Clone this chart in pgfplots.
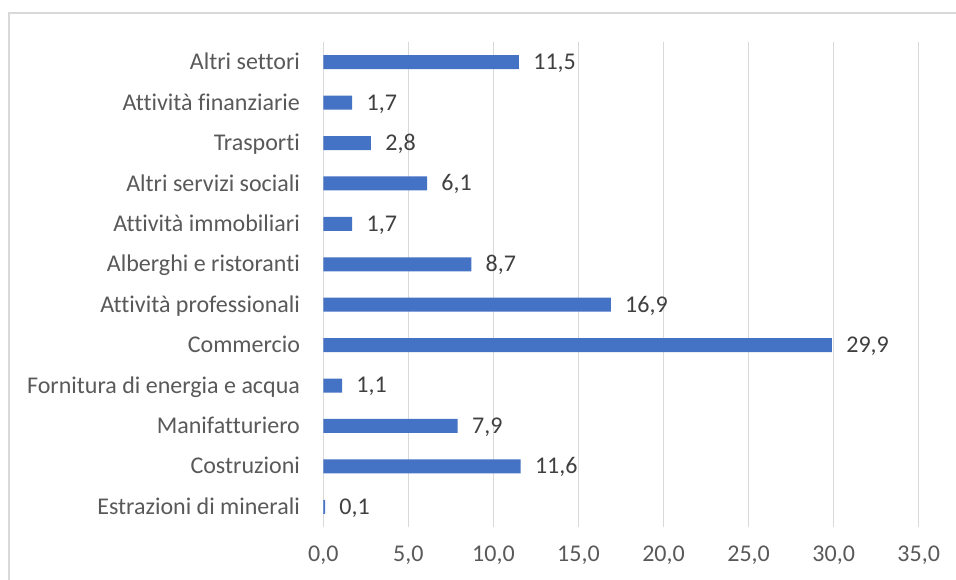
\documentclass[border=0pt]{standalone}
\usepackage{fontspec}
\setmainfont{Carlito}[Ligatures=NoCommon]
\usepackage{pgfplots}
\pgfplotsset{compat=1.18}
\definecolor{barblue}{HTML}{4472C4}
\definecolor{gridgray}{HTML}{D9D9D9}
\definecolor{ticktext}{HTML}{595959}
\definecolor{labeltext}{HTML}{404040}
\begin{document}
\fontsize{12}{14}\selectfont
\begin{tikzpicture}
\useasboundingbox (0,0) rectangle (478pt,289.5pt);
\draw[gridgray, line width=0.7pt] (4.5pt,-20pt) -- (4.5pt,283pt) -- (500pt,283pt);
\begin{axis}[
  at={(161.65pt,26pt)}, anchor=south west,
  scale only axis, width=297.7pt, height=242.5pt,
  xbar, bar width=7pt,
  xmin=0, xmax=35, ymin=-0.5, ymax=11.5,
  xtick={0,5,...,35},
  ytick={0,...,11},
  yticklabels={Estrazioni di minerali, Costruzioni, Manifatturiero, Fornitura di energia e acqua, Commercio, Attività professionali, Alberghi e ristoranti, Attività immobiliari, Altri servizi sociali, Trasporti, Attività finanziarie, Altri settori},
  axis line style={draw=none},
  major tick length=0pt,
  xmajorgrids, major grid style={gridgray, line width=0.75pt},
  /pgf/number format/.cd, use comma, fixed, fixed zerofill, precision=1, assume math mode=true,
  /pgfplots/.cd,
  xticklabel style={anchor=north, inner sep=0pt, yshift=-9.25pt, text=ticktext},
  yticklabel style={anchor=base east, inner sep=0pt, xshift=-11.5pt, yshift=-3.8pt, text=ticktext},
  nodes near coords,
  nodes near coords style={anchor=base west, inner sep=0pt, xshift=7pt, yshift=-3.7pt, text=labeltext},
]
\addplot[fill=barblue, draw=none] coordinates {(0.1,0) (11.6,1) (7.9,2) (1.1,3) (29.9,4) (16.9,5) (8.7,6) (1.7,7) (6.1,8) (2.8,9) (1.7,10) (11.5,11)};
\end{axis}
\end{tikzpicture}
\end{document}
